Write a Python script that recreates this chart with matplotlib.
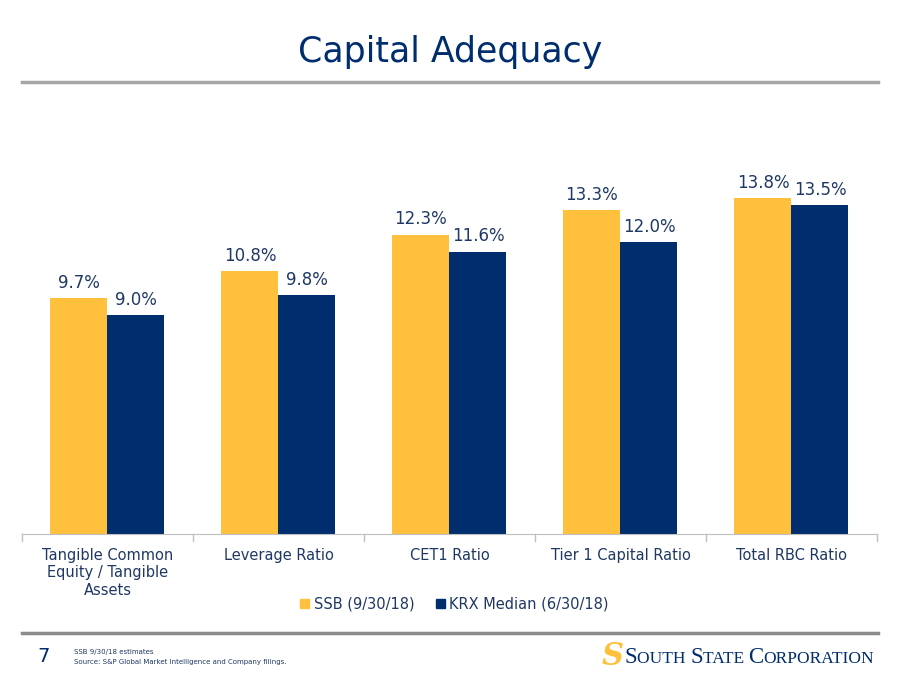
import matplotlib.pyplot as plt
import numpy as np
from matplotlib.lines import Line2D
from matplotlib.patches import Patch

categories = ['Tangible Common\nEquity / Tangible\nAssets', 'Leverage Ratio', 'CET1 Ratio',
              'Tier 1 Capital Ratio', 'Total RBC Ratio']
ssb = [9.7, 10.8, 12.3, 13.3, 13.8]
krx = [9.0, 9.8, 11.6, 12.0, 13.5]
series_names = ['SSB (9/30/18)', 'KRX Median (6/30/18)']

yellow = '#FFC03D'
navy = '#002D6E'
text_navy = '#1F3864'

plt.rcParams['font.family'] = ['DejaVu Sans']

fig = plt.figure(figsize=(9, 6.95), dpi=100)

# title and header rule
fig.text(0.5, 0.925, 'Capital Adequacy', ha='center', va='center', fontsize=25, color=navy)
fig.add_artist(Line2D([0.024, 0.975], [0.882, 0.882], color='#A6A6A6', lw=2.5))

ax = fig.add_axes([0.0244, 0.2317, 0.9500, 0.578])
x = np.arange(len(categories))
w = 1 / 3
b1 = ax.bar(x - w / 2, ssb, w, color=yellow)
b2 = ax.bar(x + w / 2, krx, w, color=navy)

for bars, vals in ((b1, ssb), (b2, krx)):
    for r, v in zip(bars, vals):
        ax.text(r.get_x() + r.get_width() / 2, v + 0.25, '%.1f%%' % v, ha='center', va='bottom',
                fontsize=12, color=text_navy)

ax.set_xlim(-0.5, len(categories) - 0.5)
ax.set_ylim(0, 16.5)
ax.set_yticks([])
for s in ['top', 'left', 'right']:
    ax.spines[s].set_visible(False)
ax.spines['bottom'].set_color('#BFBFBF')
ax.set_xticks(x)
ax.set_xticklabels(categories, fontsize=10.5, color=text_navy, va='top', linespacing=1.2)
ax.tick_params(axis='x', length=0, pad=10)
# boundary ticks
for b in np.arange(-0.5, len(categories), 1):
    ax.plot([b, b], [0, -0.3], color='#BFBFBF', lw=1, clip_on=False)

handles = [Patch(color=yellow), Patch(color=navy)]
fig.legend(handles, series_names, loc='center', bbox_to_anchor=(0.505, 0.131), ncol=2,
           frameon=False, fontsize=10.5, handlelength=0.6, handleheight=0.6,
           handletextpad=0.3, columnspacing=1.5, labelcolor=text_navy)

# footer
fig.add_artist(Line2D([0.024, 0.975], [0.089, 0.089], color='#8C8C8C', lw=2.5))
fig.text(0.048, 0.055, '7', fontsize=14, color=navy, ha='center', va='center')
fig.text(0.082, 0.062, 'SSB 9/30/18 estimates', fontsize=5, color=text_navy, va='center')
fig.text(0.082, 0.047, 'Source: S&P Global Market Intelligence and Company filings.', fontsize=5,
         color=text_navy, va='center')

# logo
fig.text(0.668, 0.056, 'S', fontsize=22, fontweight='bold', color=yellow, va='center',
         family='DejaVu Serif', style='italic')
parts = [('S', 16.5), ('OUTH ', 12.5), ('S', 16.5), ('TATE ', 12.5), ('C', 16.5), ('ORPORATION', 12.5)]
xpos = 0.694
r = fig.canvas.get_renderer()
for s, fs in parts:
    t = fig.text(xpos, 0.046, s, fontsize=fs, color=navy, va='baseline', family='Liberation Serif')
    bb = t.get_window_extent(renderer=r)
    xpos += bb.width / fig.bbox.width

fig.savefig('out.png', dpi=100)
